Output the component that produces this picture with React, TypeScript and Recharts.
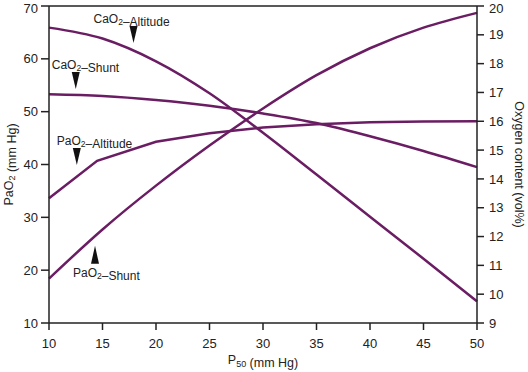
import React from 'react';
import { LineChart, Line, XAxis, YAxis, ReferenceLine, ReferenceDot, Label } from 'recharts';

// P50 values (mm Hg) along the x axis
const p50 = [10, 15, 20, 25, 30, 35, 40, 45, 50];
const p50Altitude = [10, 14.5, 20, 25, 30, 35, 40, 45, 50];

// oxygen content (vol%), right axis
const caO2Altitude = [19.25, 18.87, 18.08, 16.97, 15.6, 14.15, 12.69, 11.23, 9.75];
const caO2Shunt = [16.94, 16.88, 16.74, 16.54, 16.27, 15.94, 15.48, 14.97, 14.41];

// arterial PO2 (mm Hg), left axis
const paO2Shunt = [18.4, 27.7, 36.0, 43.6, 50.6, 56.9, 62.0, 65.9, 68.7];
const paO2Altitude = [33.6, 40.7, 44.3, 45.9, 47.0, 47.6, 48.0, 48.15, 48.2];

const xTicks = [10, 15, 20, 25, 30, 35, 40, 45, 50];
const leftTicks = [10, 20, 30, 40, 50, 60, 70];
const rightTicks = [9, 10, 11, 12, 13, 14, 15, 16, 17, 18, 19, 20];

// curve labels: arrow tip in data units (left axis)
const annotations = [
    { base: 'CaO', rest: '–Altitude', x: 17.9, y: 63.0, dir: 'down', dx: -40 },
    { base: 'CaO', rest: '–Shunt', x: 12.5, y: 54.3, dir: 'down', dx: -24 },
    { base: 'PaO', rest: '–Altitude', x: 12.6, y: 39.9, dir: 'down', dx: -20 },
    { base: 'PaO', rest: '–Shunt', x: 14.3, y: 24.6, dir: 'up', dx: -22 },
];

const shuntRows = p50.map((x, i) => ({ p50: x, caO2: caO2Shunt[i], paO2: paO2Shunt[i] }));
const altRows = p50.map((x, i) => ({ p50: x, caO2: caO2Altitude[i] }));
const paAltRows = p50Altitude.map((x, i) => ({ p50: x, paO2: paO2Altitude[i] }));

const FONT = '"Liberation Sans", Arial, Helvetica, sans-serif';
const INK = '#222';
const PURPLE = '#6a1d63';

const tickStyle = { fill: '#222', fontSize: 13, fontFamily: FONT };

const Sub = ({ children, size = 9 }: { children: React.ReactNode; size?: number }) => (
    <>
        <tspan dy={3} fontSize={size}>{children}</tspan>
        <tspan dy={-3}></tspan>
    </>
);

const LeftTitle = (props: any) => {
    const { x, y, height } = props.viewBox;
    const cx = x + 9;
    const cy = y + height / 2;
    return (
        <text x={cx} y={cy} transform={`rotate(-90 ${cx} ${cy})`} textAnchor="middle" dominantBaseline="central"
            fontSize={12.5} fontFamily={FONT} fill={INK}>
            PaO<Sub>2</Sub> (mm Hg)
        </text>
    );
};

const RightTitle = (props: any) => {
    const { x, y, height } = props.viewBox;
    const cx = x + 42;
    const cy = y + height / 2;
    return (
        <text x={cx} y={cy} transform={`rotate(90 ${cx} ${cy})`} textAnchor="middle" dominantBaseline="central"
            fontSize={12.5} fontFamily={FONT} fill={INK}>
            Oxygen content (vol%)
        </text>
    );
};

const BottomTitle = (props: any) => {
    const { x, y, width } = props.viewBox;
    return (
        <text x={x + width / 2} y={y + 41} textAnchor="middle" fontSize={12.5} fontFamily={FONT} fill={INK}>
            P<Sub>50</Sub> (mm Hg)
        </text>
    );
};

const makeArrow = (a: typeof annotations[number]) => (props: any) => {
    const { cx, cy } = props;
    const down = a.dir === 'down';
    const pts = down
        ? `${cx - 4},${cy - 17} ${cx + 4},${cy - 17} ${cx},${cy}`
        : `${cx - 4},${cy + 18} ${cx + 4},${cy + 18} ${cx},${cy}`;
    const ty = down ? cy - 24 : cy + 27;
    return (
        <g>
            <polygon points={pts} fill="#111" />
            <text x={cx + a.dx} y={ty} dominantBaseline="central" fontSize={12} fontFamily={FONT} fill={INK}>
                {a.base}<Sub size={8.5}>2</Sub>{a.rest}
            </text>
        </g>
    );
};

const App: React.FC = () => {
    return (
        <div style={{ position: 'absolute', left: 0, top: 0, width: 528, height: 372, background: '#fff' }}>
            <LineChart width={528} height={372} margin={{ top: 6, right: 0, left: 0, bottom: 0 }}>
                <XAxis
                    dataKey="p50"
                    type="number"
                    domain={[10, 50]}
                    ticks={xTicks}
                    allowDuplicatedCategory={false}
                    height={49}
                    tickSize={7}
                    tickMargin={9}
                    tick={tickStyle}
                    stroke={INK}
                    strokeWidth={1.5}
                >
                    <Label content={BottomTitle} />
                </XAxis>
                <YAxis
                    yAxisId="left"
                    domain={[10, 70]}
                    ticks={leftTicks}
                    width={49}
                    tickSize={8}
                    tickMargin={3}
                    tick={tickStyle}
                    stroke={INK}
                    strokeWidth={1.5}
                >
                    <Label content={LeftTitle} />
                </YAxis>
                <YAxis
                    yAxisId="right"
                    orientation="right"
                    domain={[9, 20]}
                    ticks={rightTicks}
                    width={51}
                    tickSize={7}
                    tickMargin={5}
                    tick={tickStyle}
                    stroke={INK}
                    strokeWidth={1.5}
                >
                    <Label content={RightTitle} />
                </YAxis>
                <ReferenceLine yAxisId="left" y={70} stroke={INK} strokeWidth={1.5} />
                <Line data={altRows} yAxisId="right" dataKey="caO2" type="monotone" stroke={PURPLE} strokeWidth={2.5} dot={false} isAnimationActive={false} />
                <Line data={shuntRows} yAxisId="right" dataKey="caO2" type="monotone" stroke={PURPLE} strokeWidth={2.5} dot={false} isAnimationActive={false} />
                <Line data={paAltRows} yAxisId="left" dataKey="paO2" type="linear" stroke={PURPLE} strokeWidth={2.5} dot={false} isAnimationActive={false} />
                <Line data={shuntRows} yAxisId="left" dataKey="paO2" type="monotone" stroke={PURPLE} strokeWidth={2.5} dot={false} isAnimationActive={false} />
                {annotations.map((a) => (
                    <ReferenceDot
                        key={a.base + a.rest}
                        yAxisId="left"
                        x={a.x}
                        y={a.y}
                        ifOverflow="visible"
                        shape={makeArrow(a)}
                    />
                ))}
            </LineChart>
        </div>
    );
};

export default App;
